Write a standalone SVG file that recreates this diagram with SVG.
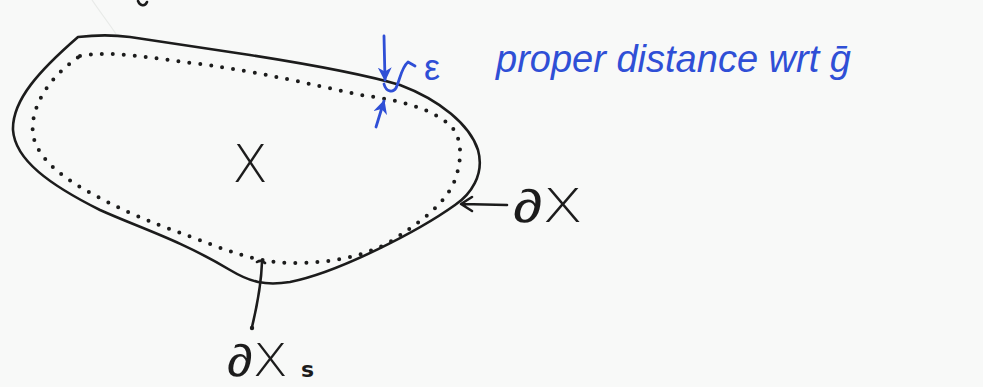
<svg xmlns="http://www.w3.org/2000/svg" width="983" height="387" viewBox="0 0 983 387">
<defs>
<style>
.ink{fill:none;stroke:#1c1c1c;stroke-width:2.6;stroke-linecap:round;stroke-linejoin:round}
.dots{fill:none;stroke:#1c1c1c;stroke-width:4;stroke-linecap:round;stroke-dasharray:0 11}
.blue{fill:none;stroke:#2f4fd6;stroke-width:2.8;stroke-linecap:round;stroke-linejoin:round}
.bt{fill:#2f4fd6;font-family:"Liberation Sans",sans-serif;font-style:italic}
.kt{fill:#1c1c1c;font-family:"DejaVu Sans","Liberation Sans",sans-serif;font-weight:300}
.sub{fill:#1c1c1c;font-family:"DejaVu Sans","Liberation Sans",sans-serif;font-weight:bold;font-size:22px}
</style>
<marker id="bh" viewBox="0 0 10 10" refX="9" refY="5" markerWidth="5" markerHeight="5" orient="auto"><path d="M0,0 L10,5 L0,10 L3,5 Z" fill="#2f4fd6"/></marker>
</defs>
<rect width="983" height="387" fill="#f8f9f8"/>
<path d="M92,0 C100,12 108,22 116,34" fill="none" stroke="#e8eae8" stroke-width="1.2"/>
<path class="ink" d="M138,1 C140,6 145,7 147,2" stroke-width="2"/>
<g id="region-X">
<path class="ink" d="M78,37 C95,35 115,35 130,37 L250,55 C320,66 370,76 400,85 C440,100 470,125 478,150 C485,175 470,195 455,205 C420,230 340,272 290,282 C265,286 250,282 230,270 C180,240 140,228 100,210 C50,185 15,160 13,130 C12,100 40,70 78,37 Z"/>
<path class="dots" d="M80,56 C110,50 150,58 200,64 C260,72 310,84 360,95 C400,100 430,108 450,125 C463,138 462,160 455,180 C445,205 420,222 390,242 C360,258 330,262 300,263 C270,264 245,257 215,246 C180,232 140,220 100,198 C65,180 38,160 33,135 C30,110 45,80 80,56 Z"/>
<text class="kt" x="250" y="182" font-size="52" text-anchor="middle">X</text>
</g>
<g id="epsilon">
<path class="blue" d="M384,36 L385,80" marker-end="url(#bh)"/>
<path class="blue" d="M376,127 L384,101" marker-end="url(#bh)"/>
<path class="blue" d="M384,84 C386,92 393,93 396,88 C400,80 401,68 408,62 L415,66"/>
<text class="bt" x="424" y="80" font-size="36" style="font-style:normal">ε</text>
<text class="bt" x="496" y="72" font-size="38" textLength="355" lengthAdjust="spacingAndGlyphs">proper distance wrt ḡ</text>
</g>
<g id="label-dX">
<path class="ink" d="M507,205 L462,204 M472,197 L461,204 L472,211"/>
<text class="kt" x="513" y="222" font-size="46" textLength="70" lengthAdjust="spacingAndGlyphs">∂X</text>
</g>
<g id="label-dXs">
<path class="ink" d="M257,262 C260,260 263,261 265,263 M262,262 C261,290 256,310 252,327"/>
<circle cx="252" cy="328" r="2.2" fill="#1c1c1c"/>
<text class="kt" x="227" y="376" font-size="45" textLength="61" lengthAdjust="spacingAndGlyphs">∂X</text>
<text class="sub" x="301" y="377">s</text>
</g>
</svg>
